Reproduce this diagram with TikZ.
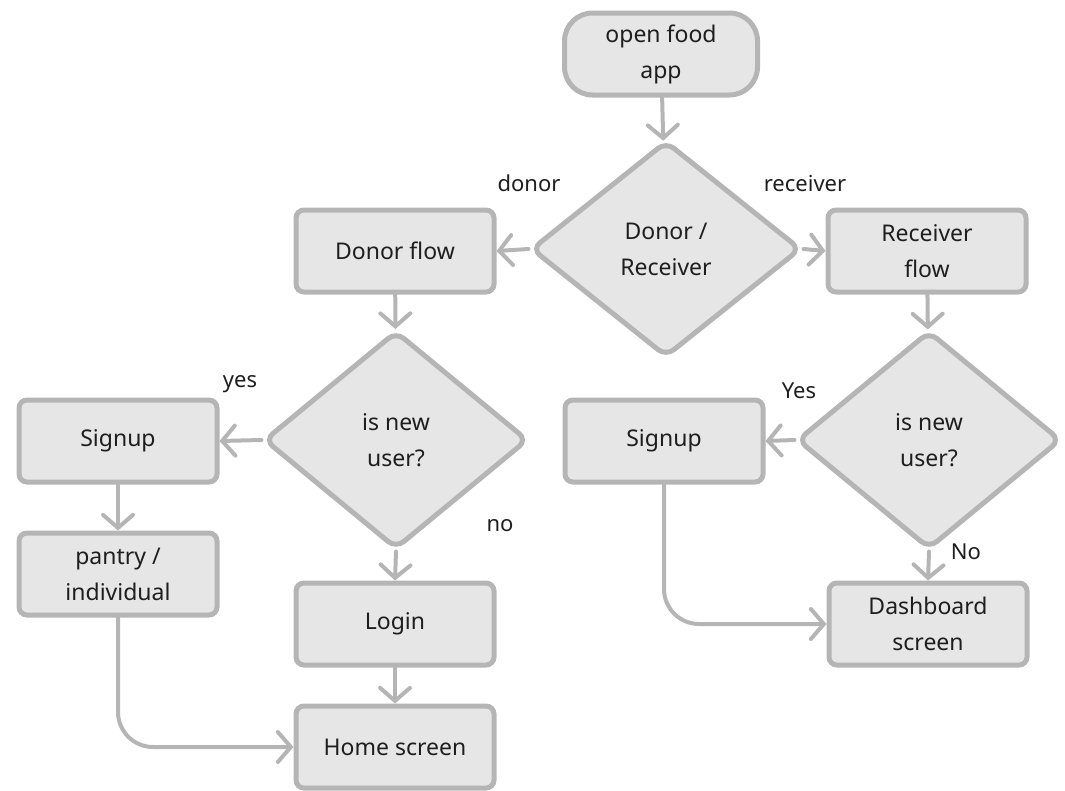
\documentclass[tikz,border=0pt]{standalone}
\usepackage{fontspec}
\setmainfont{Noto Sans}
\usetikzlibrary{shapes.geometric,arrows.meta}
\definecolor{edgegray}{HTML}{B5B5B5}
\definecolor{boxfill}{HTML}{E6E6E6}
\definecolor{ink}{HTML}{1E1E1E}
\begin{document}
\begin{tikzpicture}[x=1pt,y=-1pt,
  every node/.style={text=ink,font=\fontsize{23}{36}\selectfont},
  box/.style={draw=edgegray,fill=boxfill,line width=5pt,rounded corners=8pt,
    minimum width=198pt,minimum height=82pt,align=center,inner sep=0pt},
  startbox/.style={box,rounded corners=28pt,minimum width=193pt},
  choice/.style={draw=edgegray,fill=boxfill,line width=5pt,diamond,aspect=1.26,
    rounded corners=10pt,minimum width=270pt,minimum height=216pt,
    align=center,inner sep=0pt},
  flow/.style={draw=edgegray,line width=4pt,line cap=round,
    -{Straight Barb[length=13pt,width=30pt,line cap=round]}},
  lbl/.style={font=\fontsize{22}{26}\selectfont}
]
\useasboundingbox (0,0) rectangle (1065,790);

% nodes
\node[startbox] (start) at (661,54) {open food\\app};
\node[choice] (role) at (666,249) {Donor /\\Receiver};
\node[box] (donor) at (395,251) {Donor flow};
\node[box] (recv) at (927,251) {Receiver\\flow};
\node[choice,minimum width=264pt,minimum height=218pt] (dnew) at (396,440) {is new\\user?};
\node[choice,minimum width=264pt,minimum height=218pt] (rnew) at (929,440) {is new\\user?};
\node[box] (dsign) at (118,441) {Signup};
\node[box] (pantry) at (118,574) {pantry /\\individual};
\node[box] (login) at (395,624) {Login};
\node[box] (home) at (395,747) {Home screen};
\node[box] (rsign) at (664,441) {Signup};
\node[box] (dash) at (928,624) {Dashboard\\screen};

% edge labels
\node[lbl] (ldonor) at (529,183) {donor};
\node[lbl] (lrecv) at (805,183) {receiver};
\node[lbl] (lyes) at (240,384) {yes};
\node[lbl] (lno) at (500,526) {no};
\node[lbl] (lYes) at (799,391) {Yes};
\node[lbl] (lNo) at (966,552) {No};

% connectors
\draw[flow] (start) -- (role);
\draw[flow] (role.west) -- (donor.east);
\draw[flow] (role.east) -- (recv.west);
\draw[flow] (donor) -- (dnew);
\draw[flow] (dnew.west) -- (dsign.east);
\draw[flow] (dnew.south) -- (login.north);
\draw[flow] (dsign) -- (pantry);
\draw[flow] (login) -- (home);
\draw[flow,rounded corners=35pt] (pantry.south) |- (home.west);
\draw[flow] (recv) -- (rnew);
\draw[flow] (rnew.west) -- (rsign.east);
\draw[flow] (rnew.south) -- (dash.north);
\draw[flow,rounded corners=35pt] (rsign.south) |- (dash.west);
\end{tikzpicture}
\end{document}
